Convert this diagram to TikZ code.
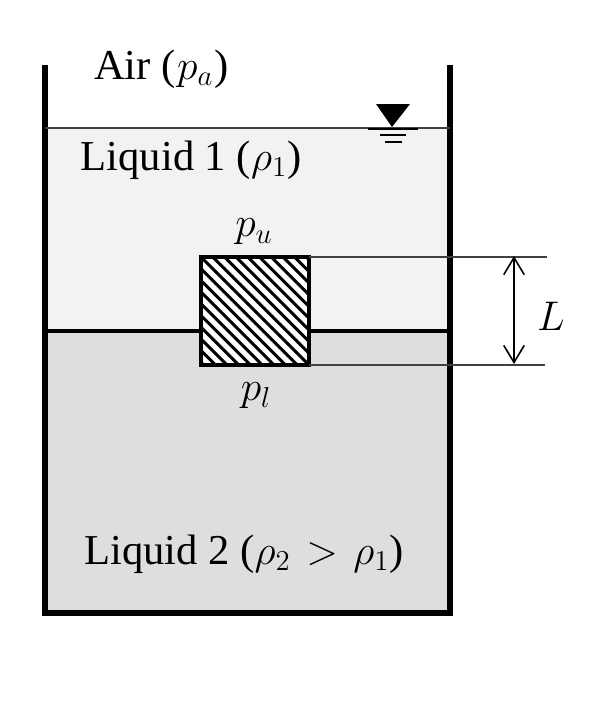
\documentclass[tikz,border=0pt]{standalone}
\usepackage{fontspec}
\setmainfont{Liberation Serif}
\usetikzlibrary{arrows.meta}

\begin{document}
\begin{tikzpicture}[
        x=0.5pt, y=-0.5pt,
        wall/.style={line width=3pt, line cap=butt},
        thinline/.style={line width=0.6pt, black!75},
        textlabel/.style={inner sep=0pt, font=\fontsize{21.300}{25}\selectfont},
        blockbox/.style={fill=white, minimum size=54pt, inner sep=0pt, outer sep=0pt},
        arrow/.style={{Straight Barb[length=3mm, width=3.600mm]}-{Straight Barb[length=3mm, width=3.600mm]}, line width=0.8pt}
        ]
        \useasboundingbox (0,0) rectangle (609,703);

        % Liquids
        \fill[black!5] (45,128) rectangle (450,330);
        \fill[black!13] (45,330) rectangle (450,613);

        % Tank
        \coordinate (wall_L) at (45,65);
        \coordinate (wall_R) at (450,65);
        \coordinate (floor_L) at (45,613);
        \coordinate (floor_R) at (450,613);
        \draw[wall, line join=miter] (wall_L) -- (floor_L) -- (floor_R) -- (wall_R);

        % Free surface and interface
        \coordinate (surf_L) at (45,128);
        \coordinate (surf_R) at (450,128);
        \coordinate (intf_L) at (45,330.500);
        \coordinate (intf_R) at (450,330.500);
        \draw[thinline] (surf_L) -- (surf_R);
        \draw[line width=2pt] (intf_L) -- (intf_R);

        % Level symbol
        \fill (376,104) -- (410,104) -- (392,127) -- cycle;
        \draw[line width=1pt] (368,129) -- (418,129);
        \draw[line width=1pt] (380,134.500) -- (406,134.500);
        \draw[line width=1pt] (385,142) -- (402,142);

        % Block
        \node[blockbox] (block) at (255,311) {};
        \begin{scope}
            \clip (block.north west) rectangle (block.south east);
            \foreach \s in {-10,...,10}
                \draw[line width=1.500pt] (201+\s*11.700,257) -- ++(108,108);
        \end{scope}
        \draw[line width=2pt] (block.north west) rectangle (block.south east);

        % Dimension
        \coordinate (top_R) at (547,257);
        \coordinate (bot_R) at (545,365);
        \coordinate (dim_T) at (514,256);
        \coordinate (dim_B) at (514,364);
        \draw[thinline] (block.north east) -- (top_R);
        \draw[thinline] (block.south east) -- (bot_R);
        \draw[arrow] (dim_T) -- (dim_B);

        % Labels
        \node[textlabel] (air) at (161.500,69) {Air ($\kern.7pt p_a\kern.7pt$)};
        \node[textlabel] (liquid_1) at (191,160) {Liquid 1 ($\rho_1$)};
        \node[textlabel] (p_u) at (254,232) {$p_u$};
        \node[textlabel] (p_l) at (256,396) {$p_l$};
        \node[textlabel] (L) at (551,316) {$L$};
        \node[textlabel] (liquid_2) at (244,554) {Liquid 2 ($\rho_2\kern2pt>\kern2pt\rho_1$)};
\end{tikzpicture}
\end{document}
